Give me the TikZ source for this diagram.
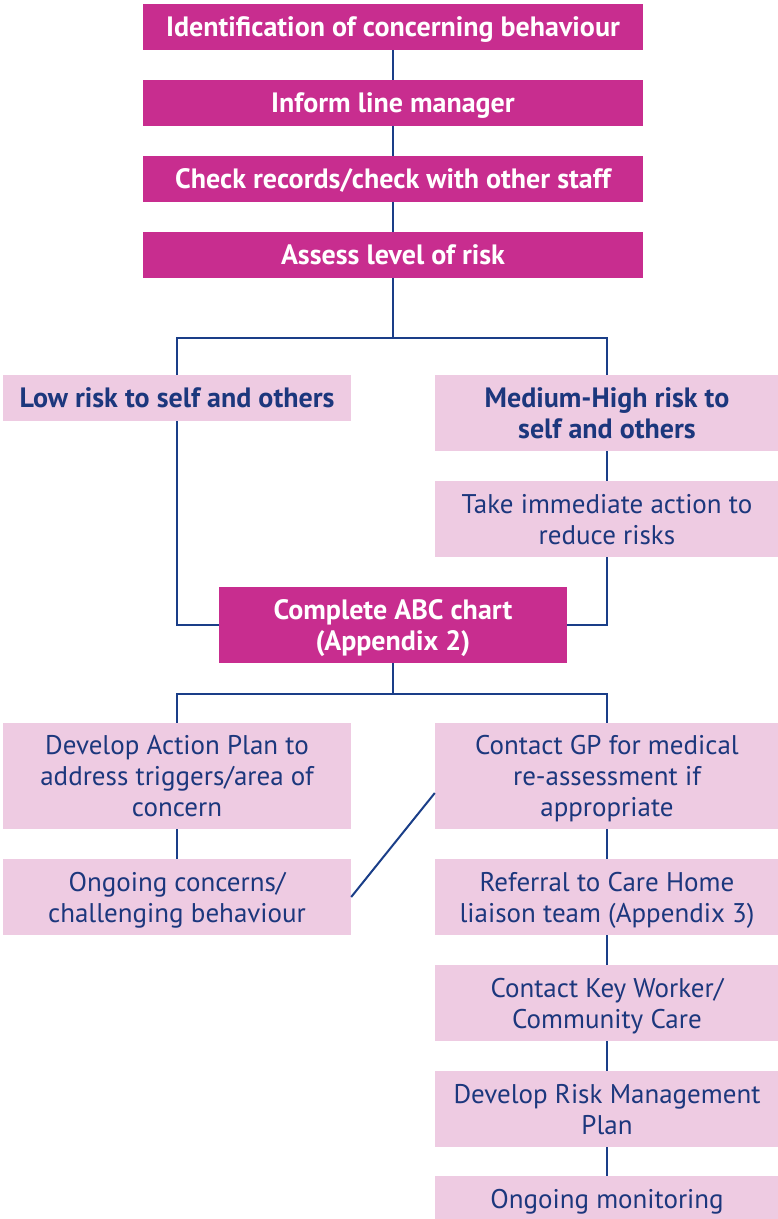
\documentclass[tikz,border=0pt]{standalone}
\usepackage{fontspec}
\setmainfont{PT Sans}
\definecolor{magentabox}{RGB}{200,45,143}
\definecolor{pinkbox}{RGB}{238,203,226}
\definecolor{navyline}{RGB}{26,62,136}
\definecolor{navytext}{RGB}{28,55,125}
\begin{document}
\begin{tikzpicture}[x=1pt,y=-1pt,
    every node/.style={rectangle,inner sep=0pt,align=center,font=\fontsize{27}{31}\selectfont,
      text height=25.3pt,text depth=5.7pt},
    twolines/.style={text height=56.3pt},
    threelines/.style={text height=87.3pt},
    boldtext/.style={font=\fontsize{28}{31}\selectfont\bfseries},
    mainbox/.style={fill=magentabox,text=white,boldtext,minimum width=500pt,minimum height=46pt},
    stepbox/.style={fill=pinkbox,text=navytext,minimum width=344pt,minimum height=#1},
    stepbox/.default=76pt,
    link/.style={draw=navyline,line width=2pt}]
    \useasboundingbox (0,0) rectangle (778,1219);
    \node[mainbox] at (393,27) (ident) {Identification of concerning behaviour};
    \node[mainbox] at (393,103) (inform) {Inform line manager};
    \node[mainbox] at (393,179) (check) {Check records/check with other staff};
    \node[mainbox] at (393,255) (assess) {Assess level of risk};
    \coordinate (split1) at (393,338);
    \node[stepbox=46pt,minimum width=348pt,boldtext] at (177,398) (low) {Low risk to self and others};
    \node[stepbox,boldtext,twolines] at (607,413) (med) {Medium-High risk to\\self and others};
    \node[stepbox,twolines] at (607,519) (take) {Take immediate action to\\reduce risks};
    \node[mainbox,twolines,minimum width=348pt,minimum height=76pt] at (393,625) (abc) {Complete ABC chart\\(Appendix 2)};
    \coordinate (split2) at (393,694);
    \node[stepbox=106pt,threelines,minimum width=348pt] at (177,776) (action) {Develop Action Plan to\\address triggers/area of\\concern};
    \node[stepbox=106pt,threelines] at (607,776) (gp) {Contact GP for medical\\re-assessment if\\appropriate};
    \node[stepbox,twolines,minimum width=348pt] at (177,897) (ongoing) {Ongoing concerns/\\challenging behaviour};
    \node[stepbox,twolines] at (607,897) (referral) {Referral to Care Home\\liaison team (Appendix 3)};
    \node[stepbox,twolines] at (607,1003) (keyworker) {Contact Key Worker/\\Community Care};
    \node[stepbox,twolines] at (607,1109) (riskplan) {Develop Risk Management\\Plan};
    \node[stepbox=46pt] at (607,1199) (monitor) {Ongoing monitoring};
    % top chain
    \draw[link] (ident) -- (inform) -- (check) -- (assess) -- (split1);
    \draw[link] (low) |- (split1) -| (med);
    \draw[link] (med) -- (take);
    \draw[link] (low) |- (abc);
    \draw[link] (take) |- (abc);
    % below the ABC chart
    \draw[link] (abc) -- (split2);
    \draw[link] (action) |- (split2) -| (gp);
    \draw[link] (action) -- (ongoing);
    \draw[link] (ongoing.east) -- ([yshift=-17pt]gp.west);
    \draw[link] (gp) -- (referral) -- (keyworker) -- (riskplan) -- (monitor);
\end{tikzpicture}
\end{document}
